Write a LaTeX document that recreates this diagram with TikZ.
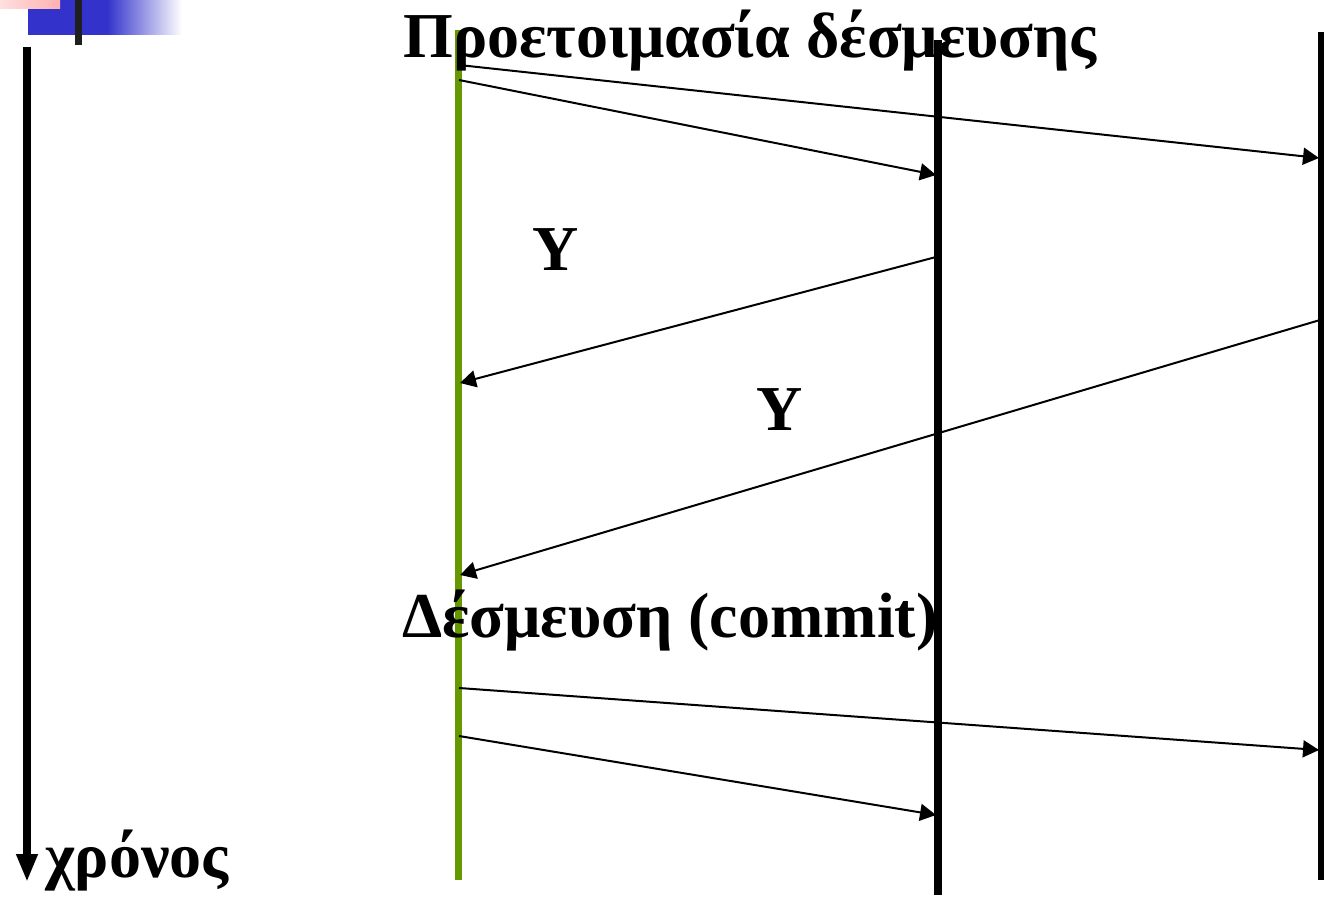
\documentclass[tikz,border=0pt]{standalone}
\usepackage{fontspec}
\setmainfont{Liberation Serif}
\usetikzlibrary{arrows.meta}
\definecolor{lifegreen}{RGB}{102,153,0}
\definecolor{decoblue}{RGB}{51,51,204}
\definecolor{decopink}{RGB}{255,176,176}
\tikzset{
  lbl/.style={anchor=base west, inner sep=0pt, font=\fontsize{32pt}{37pt}\selectfont\bfseries},
  life/.style={line width=4pt},
  msg/.style={line width=1pt, -{Triangle[length=8pt,width=8.5pt]}},
}
\begin{document}
\begin{tikzpicture}[x=0.5pt,y=-0.5pt]
\useasboundingbox (0,0) rectangle (1325,897);
% decoration
\fill[decoblue] (28,0) rectangle (108,35);
\shade[left color=decoblue, right color=white] (107,0) rectangle (182,35);
\shade[left color=decopink!40, right color=decopink] (0,0) rectangle (60,9);
\fill[black!88] (75,0) rectangle (82,45);
% lifelines
\coordinate (ta) at (27,47);
\coordinate (tb) at (27,882);
\draw[line width=4pt, -{Triangle[length=14pt,width=10pt]}] (ta) -- (tb);
\draw[life, draw=lifegreen, line width=3.5pt] (458,30) coordinate (g0) -- (458,880) coordinate (g1);
\draw[life] (938,40) coordinate (m0) -- (938,895) coordinate (m1);
\draw[life, line width=3pt] (1321,32) coordinate (r0) -- (1321,880) coordinate (r1);
% message endpoints
\coordinate (a1s) at (459,65);   \coordinate (a1e) at (1319,158);
\coordinate (a2s) at (459,80);   \coordinate (a2e) at (936,175);
\coordinate (a3s) at (936,257);  \coordinate (a3e) at (460,383);
\coordinate (a4s) at (1320,320); \coordinate (a4e) at (460,575);
\coordinate (a5s) at (459,688);  \coordinate (a5e) at (1319,750);
\coordinate (a6s) at (459,736);  \coordinate (a6e) at (936,815);
\draw[msg] (a1s) -- (a1e);
\draw[msg] (a2s) -- (a2e);
\draw[msg] (a3s) -- (a3e);
\draw[msg] (a4s) -- (a4e);
\draw[msg] (a5s) -- (a5e);
\draw[msg] (a6s) -- (a6e);
% labels
\node[lbl] (title) at (403,58) {Προετοιμασία δέσμευσης};
\node[lbl] (y1) at (532,271) {Y};
\node[lbl] (y2) at (756,430) {Y};
\node[lbl] (commit) at (402,637) {Δέσμευση (commit)};
\node[lbl] (time) at (45,877) {χρόνος};
\end{tikzpicture}
\end{document}
